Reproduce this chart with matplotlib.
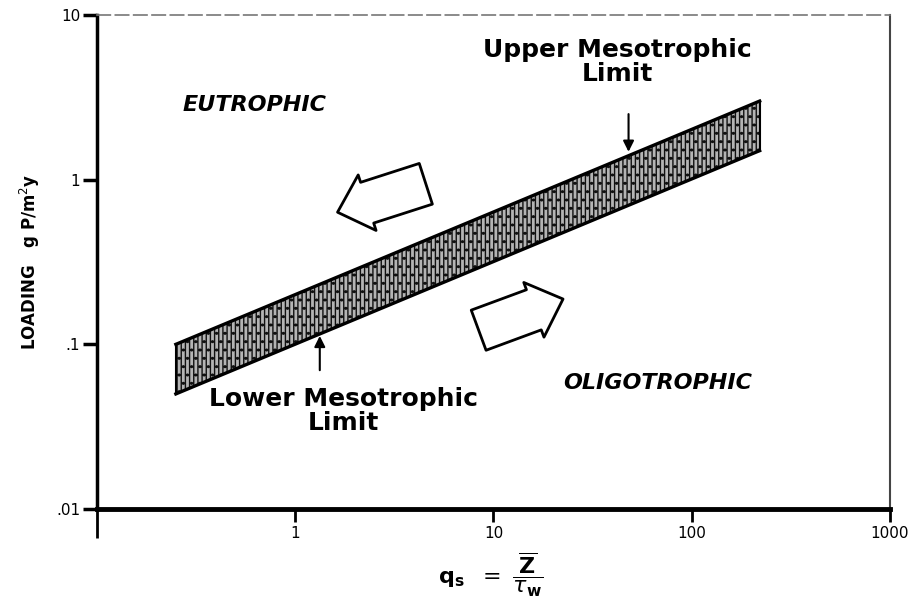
import matplotlib
matplotlib.use('Agg')
import matplotlib.pyplot as plt
from matplotlib.patches import FancyArrowPatch

# mesotrophic band: end points of the two limit lines (log-log straight lines)
qs = [0.25, 220]
lower_limit = [0.05, 1.5]
upper_limit = [0.10, 3.0]

x_ticks = [0.1, 1, 10, 100, 1000]
x_tick_labels = ['', '1', '10', '100', '1000']
y_ticks = [0.01, 0.1, 1, 10]
y_tick_labels = ['.01', '.1', '1', '10']

plt.rcParams['hatch.linewidth'] = 1.0

fig = plt.figure(figsize=(9.2, 6.11), dpi=100)
ax = fig.add_axes([0.1054, 0.1669, 0.8620, 0.8086])

ax.set_xscale('log')
ax.set_yscale('log')
ax.set_xlim(0.1, 1000)
ax.set_ylim(0.01, 10)

# shaded band between the two limits
ax.fill_between(qs, lower_limit, upper_limit, facecolor='#b4b4b4',
                edgecolor='#111111', hatch='||||..', linewidth=0)
ax.plot(qs, lower_limit, color='black', lw=2.4)
ax.plot(qs, upper_limit, color='black', lw=2.4)
ax.plot([qs[0], qs[0]], [lower_limit[0], upper_limit[0]], color='black', lw=1.5)
ax.plot([qs[1], qs[1]], [lower_limit[1], upper_limit[1]], color='black', lw=1.5)

# region labels
ax.text(0.62, 2.84, 'EUTROPHIC', fontsize=16, fontweight='bold',
        style='italic', ha='center', va='center')
ax.text(67.6, 0.0583, 'OLIGOTROPHIC', fontsize=16, fontweight='bold',
        style='italic', ha='center', va='center')

# limit labels with small arrows
ax.text(42, 5.2, 'Upper Mesotrophic\nLimit', fontsize=18, fontweight='bold',
        ha='center', va='center', multialignment='center', linespacing=1.0)
ax.annotate('', xy=(48, 1.42), xytext=(48, 2.6),
            arrowprops=dict(arrowstyle='-|>', color='black', lw=1.5,
                            mutation_scale=16))
ax.text(1.76, 0.0394, 'Lower Mesotrophic\nLimit', fontsize=18, fontweight='bold',
        ha='center', va='center', multialignment='center', linespacing=1.0)
ax.annotate('', xy=(1.33, 0.117), xytext=(1.33, 0.067),
            arrowprops=dict(arrowstyle='-|>', color='black', lw=1.5,
                            mutation_scale=16))

# big hollow arrows pointing away from the band
for tail, head in [((0.418, 0.660), (0.300, 0.599)),
                   ((0.478, 0.360), (0.591, 0.427))]:
    arr = FancyArrowPatch(tail, head, transform=ax.transAxes,
                          arrowstyle='simple,head_length=0.8,head_width=1.5,tail_width=1.1',
                          mutation_scale=28, fc='white', ec='black', lw=2)
    ax.add_patch(arr)

# axes styling
ax.spines['left'].set_linewidth(2.5)
ax.spines['bottom'].set_linewidth(3.5)
ax.spines['top'].set_linewidth(1.2)
ax.spines['top'].set_linestyle((0, (8, 3)))
ax.spines['top'].set_color('#777777')
ax.spines['right'].set_linewidth(1.5)
ax.spines['right'].set_color('#444444')

ax.set_xticks(x_ticks)
ax.set_xticklabels(x_tick_labels)
ax.set_yticks(y_ticks)
ax.set_yticklabels(y_tick_labels)
ax.minorticks_off()
ax.tick_params(axis='y', direction='out', length=10, width=2.5, pad=2, labelsize=11)
ax.tick_params(axis='x', direction='out', length=9, width=2, pad=3, labelsize=11)
ax.xaxis.get_major_ticks()[0].tick1line.set_markersize(21)

ax.set_ylabel('LOADING   g P/m$^2$y', fontsize=12, fontweight='bold')
ax.yaxis.set_label_coords(-0.069, 0.5)
ax.set_xlabel(r'$\mathbf{q_s}\ \ =\ \dfrac{\overline{\mathbf{Z}}}{\tau_\mathbf{w}}$', fontsize=16)
ax.xaxis.set_label_coords(0.496, -0.134)
ax.xaxis.label.set_va('center')

plt.savefig('out.png', dpi=100)
